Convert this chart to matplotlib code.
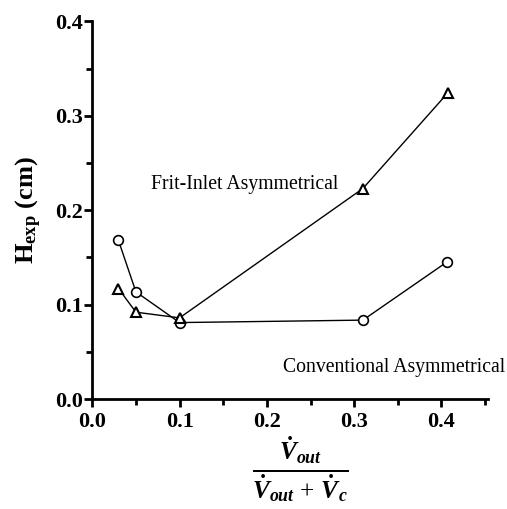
import matplotlib
matplotlib.use("Agg")
import matplotlib.pyplot as plt
from matplotlib.ticker import MultipleLocator

plt.rcParams['font.family'] = 'Liberation Serif'
plt.rcParams['mathtext.fontset'] = 'custom'
plt.rcParams['mathtext.rm'] = 'Liberation Serif'
plt.rcParams['mathtext.it'] = 'Liberation Serif:italic'
plt.rcParams['mathtext.bf'] = 'Liberation Serif:bold'
plt.rcParams['mathtext.bfit'] = 'Liberation Serif:bold:italic'

# Data
x_conv = [0.030, 0.050, 0.100, 0.310, 0.406]
h_conv = [0.168, 0.1135, 0.081, 0.0836, 0.145]
x_frit = [0.030, 0.050, 0.100, 0.310, 0.407]
h_frit = [0.117, 0.092, 0.086, 0.223, 0.324]

fig = plt.figure(figsize=(5.07, 5.09), dpi=100)
ax = fig.add_axes([0.182, 0.216, 0.780, 0.742])

ax.plot(x_conv, h_conv, '-', color='black', lw=1.0, marker='o', ms=7,
        mfc='white', mec='black', mew=1.2)
ax.plot(x_frit, h_frit, '-', color='black', lw=1.0, marker='^', ms=7,
        mfc='white', mec='black', mew=1.5)

ax.set_xlim(0, 0.453)
ax.set_ylim(0, 0.4)
ax.xaxis.set_major_locator(MultipleLocator(0.1))
ax.xaxis.set_minor_locator(MultipleLocator(0.05))
ax.yaxis.set_major_locator(MultipleLocator(0.1))
ax.yaxis.set_minor_locator(MultipleLocator(0.05))
ax.xaxis.set_major_formatter(plt.FormatStrFormatter('%.1f'))
ax.yaxis.set_major_formatter(plt.FormatStrFormatter('%.1f'))

for s in ['top', 'right']:
    ax.spines[s].set_visible(False)
for s in ['left', 'bottom']:
    ax.spines[s].set_linewidth(2)

ax.tick_params(which='major', direction='out', length=6, width=2, labelsize=16)
ax.tick_params(axis='x', which='major', pad=3)
ax.tick_params(axis='y', which='major', pad=1)
ax.tick_params(which='minor', direction='out', length=4, width=2)
for lab in ax.get_xticklabels() + ax.get_yticklabels():
    lab.set_fontweight('bold')

ax.text(0.0673, 0.222, 'Frit-Inlet Asymmetrical', fontsize=14.2)
ax.text(0.2187, 0.0286, 'Conventional Asymmetrical', fontsize=14.2)

ax.set_ylabel(r'$\mathbf{H_{exp}}$ (cm)', fontsize=19, fontweight='bold', labelpad=8)
fig.text(0.592, 0.076,
         r'$\frac{\mathbfit{\dot{V}_{out}}}{\mathbfit{\dot{V}_{out}} \,+\, \mathbfit{\dot{V}_{c}}}$',
         fontsize=26, ha='center', va='center')

fig.savefig('out.png', dpi=100)
